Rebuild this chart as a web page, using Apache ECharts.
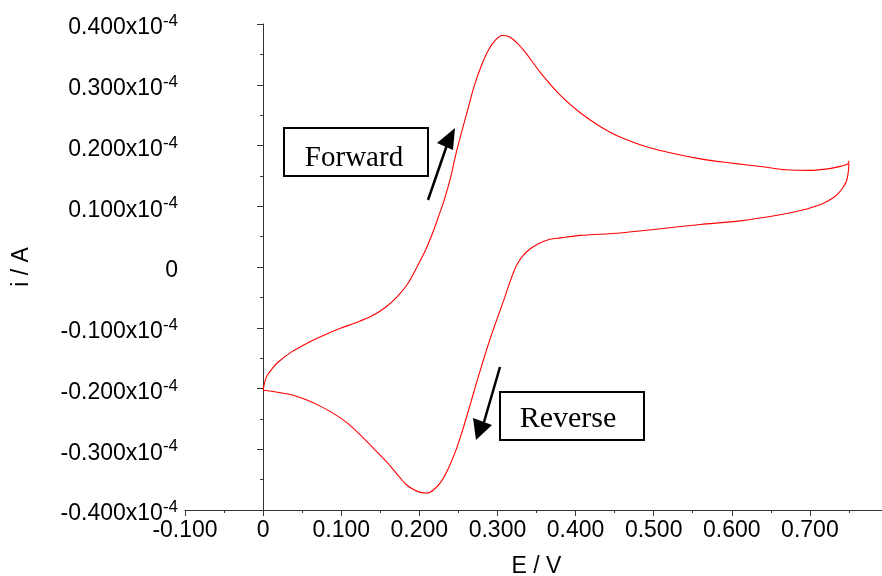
<!DOCTYPE html>
<html>
<head>
<meta charset="utf-8">
<script src="https://cdn.jsdelivr.net/npm/echarts@6/dist/echarts.min.js"></script>
<style>
  html, body { margin: 0; padding: 0; background: #fff; }
  #main { width: 882px; height: 576px; }
</style>
</head>
<body>
<div id="main"></div>
<script>
// 正向扫描 (E / V, i / 1e-4 A)
const forwardE = [0.000, 0.002, 0.005, 0.012, 0.018, 0.035, 0.060, 0.080, 0.099, 0.118, 0.137, 0.156, 0.173, 0.186, 0.197, 0.208, 0.217, 0.224, 0.232, 0.240, 0.247, 0.255, 0.263, 0.270, 0.279, 0.288, 0.297, 0.306, 0.315, 0.325, 0.336, 0.355, 0.381, 0.406, 0.432, 0.457, 0.496, 0.560, 0.600, 0.640, 0.670, 0.700, 0.725, 0.740, 0.749, 0.750];
const forwardI = [-0.203, -0.190, -0.179, -0.167, -0.158, -0.141, -0.123, -0.111, -0.101, -0.092, -0.082, -0.067, -0.047, -0.026, 0.000, 0.028, 0.056, 0.081, 0.111, 0.147, 0.187, 0.226, 0.264, 0.297, 0.330, 0.356, 0.373, 0.381, 0.379, 0.369, 0.353, 0.320, 0.282, 0.254, 0.231, 0.214, 0.196, 0.178, 0.171, 0.165, 0.160, 0.159, 0.162, 0.166, 0.170, 0.175];
// 反向扫描
const reverseE = [0.750, 0.749, 0.747, 0.743, 0.737, 0.730, 0.714, 0.688, 0.662, 0.611, 0.560, 0.509, 0.457, 0.406, 0.381, 0.365, 0.352, 0.342, 0.333, 0.325, 0.319, 0.314, 0.308, 0.301, 0.292, 0.283, 0.274, 0.265, 0.256, 0.247, 0.237, 0.227, 0.218, 0.210, 0.201, 0.192, 0.183, 0.176, 0.159, 0.141, 0.124, 0.108, 0.090, 0.073, 0.056, 0.035, 0.013, 0.000];
const reverseI = [0.170, 0.155, 0.142, 0.132, 0.122, 0.114, 0.103, 0.093, 0.086, 0.076, 0.070, 0.063, 0.056, 0.052, 0.048, 0.045, 0.038, 0.030, 0.019, 0.004, -0.014, -0.032, -0.055, -0.080, -0.113, -0.149, -0.187, -0.227, -0.266, -0.301, -0.332, -0.355, -0.367, -0.372, -0.371, -0.366, -0.358, -0.348, -0.322, -0.298, -0.276, -0.257, -0.241, -0.229, -0.219, -0.210, -0.205, -0.203];

const xTicks = [-0.1, 0.8, 0.1];   // min, max, interval
const yTicks = [-0.4, 0.4, 0.1];

const zip = (xs, ys) => xs.map((x, k) => [x, ys[k]]);

const chart = echarts.init(document.getElementById('main'));
const axisColor = '#333';
const font = 'Liberation Sans, Arial, sans-serif';
const serif = '"Liberation Serif", "Times New Roman", serif';

const option = {
  animation: false,
  grid: { left: 185, top: 24, width: 703, bottom: 66, outerBoundsMode: 'none', containLabel: false },
  xAxis: {
    type: 'value',
    min: xTicks[0], max: xTicks[1], interval: xTicks[2],
    name: 'E / V',
    nameLocation: 'middle',
    nameGap: 45,
    nameTextStyle: { fontSize: 23, color: '#000', fontFamily: font },
    axisLine: { onZero: false, lineStyle: { color: axisColor } },
    axisTick: { length: 6, lineStyle: { color: axisColor } },
    minorTick: { show: true, splitNumber: 2, length: 3, lineStyle: { color: axisColor } },
    splitLine: { show: false },
    axisLabel: {
      fontSize: 23, color: '#000', fontFamily: font, margin: 9,
      formatter: v => {
        if (Math.abs(v) < 1e-9) return '0';
        if (v > 0.75) return '';
        return v.toFixed(3);
      }
    }
  },
  yAxis: {
    type: 'value',
    min: yTicks[0], max: yTicks[1], interval: yTicks[2],
    name: 'i / A',
    nameLocation: 'middle',
    nameRotate: 90,
    nameGap: 152,
    nameTextStyle: { fontSize: 23, color: '#000', fontFamily: font },
    axisLine: { show: true, lineStyle: { color: axisColor } },
    axisTick: { show: true, length: 6, lineStyle: { color: axisColor } },
    minorTick: { show: true, splitNumber: 2, length: 3, lineStyle: { color: axisColor } },
    splitLine: { show: false },
    axisLabel: {
      margin: 7,
      padding: [8, 0, 0, 0],
      formatter: v => {
        if (Math.abs(v) < 1e-9) return '{a|0}';
        return '{a|' + v.toFixed(3) + 'x10}{s|-4}';
      },
      rich: {
        a: { fontSize: 23, color: '#000', fontFamily: font, lineHeight: 30 },
        s: { fontSize: 17, color: '#000', fontFamily: font, verticalAlign: 'top', lineHeight: 30 }
      }
    }
  },
  series: [
    {
      name: 'forward', type: 'line', data: zip(forwardE, forwardI),
      smooth: 0.3, showSymbol: false,
      lineStyle: { color: '#ff0000', width: 1.1 }
    },
    {
      name: 'reverse', type: 'line', data: zip(reverseE, reverseI),
      smooth: 0.3, showSymbol: false,
      lineStyle: { color: '#ff0000', width: 1.1 }
    }
  ],
  // 标注：方框和箭头
  graphic: [
    { type: 'rect', shape: { x: 284, y: 128, width: 144, height: 48 }, style: { fill: '#fff', stroke: '#000', lineWidth: 2 } },
    { type: 'text', x: 354, y: 158, style: { text: 'Forward', font: '29px ' + serif, fill: '#000', align: 'center', verticalAlign: 'middle' } },
    { type: 'line', shape: { x1: 428, y1: 200, x2: 447, y2: 145 }, style: { stroke: '#000', lineWidth: 2.5 } },
    { type: 'polygon', shape: { points: [[455, 128], [437, 143], [453, 150]] }, style: { fill: '#000' } },
    { type: 'rect', shape: { x: 500, y: 392, width: 144, height: 48 }, style: { fill: '#fff', stroke: '#000', lineWidth: 2 } },
    { type: 'text', x: 568, y: 419, style: { text: 'Reverse', font: '30px ' + serif, fill: '#000', align: 'center', verticalAlign: 'middle' } },
    { type: 'line', shape: { x1: 500, y1: 367, x2: 484, y2: 422 }, style: { stroke: '#000', lineWidth: 2.5 } },
    { type: 'polygon', shape: { points: [[476, 440], [473, 418], [492, 425]] }, style: { fill: '#000' } }
  ]
};

chart.setOption(option);
</script>
</body>
</html>
